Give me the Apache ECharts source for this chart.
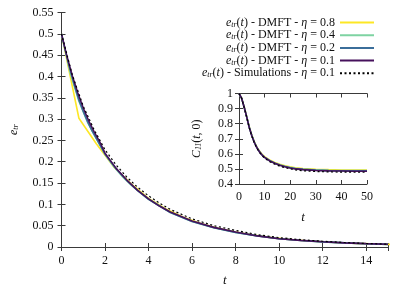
<!DOCTYPE html>
<html><head><meta charset="utf-8">
<script src="https://cdn.jsdelivr.net/npm/echarts@6/dist/echarts.min.js"></script>
<style>html,body{margin:0;padding:0;background:#fff}#c{width:411px;height:288px}</style>
</head><body><div id="c"></div>
<script>
// ---- main panel data (e_tr vs t) ----
const tP = [0,0.25,0.5,0.75,1,1.25,1.5,1.75,2,2.5,3,3.5,4,4.5,5,6,7,8,9,10,11,12,13,14,15];
const vP = [0.5,0.447,0.401,0.361,0.326,0.296,0.27,0.247,0.22,0.185,0.157,0.133,0.113,0.096,0.082,0.061,0.046,0.035,0.026,0.0195,0.0155,0.0122,0.0097,0.0078,0.0063];
const tB = [0,0.2,0.4,0.6,0.8,1.0,1.2,1.4,1.6,2,2.5,3,3.5,4,5,6,7,8,9,10,11,12,13,14,15];
const vB = [0.5,0.456,0.415,0.378,0.345,0.318,0.294,0.273,0.255,0.218,0.184,0.156,0.132,0.112,0.081,0.06,0.045,0.034,0.026,0.0193,0.0153,0.012,0.0096,0.0077,0.0062];
const tG = [0,0.4,0.8,1.2,1.6,2.0,2.4,2.8,3.2,3.6,4,5,6,7,8,9,10,11,12,13,14,15];
const vG = [0.5,0.408,0.342,0.292,0.254,0.217,0.189,0.165,0.145,0.128,0.112,0.081,0.06,0.045,0.034,0.026,0.0193,0.0153,0.012,0.0096,0.0077,0.0062];
const tY = [0,0.8,1.6,2.4,3.2,4.0,4.8,5.6,6.4,7.2,8.0,8.8,9.6,10.4,11.2,12.0,12.8,13.6,14.4,15.2];
const vY = [0.5,0.302,0.242,0.188,0.148,0.114,0.089,0.07,0.055,0.044,0.035,0.028,0.0225,0.018,0.0148,0.0122,0.0101,0.0085,0.0072,0.0061];
const tS = [0,0.5,1,1.5,2,2.5,3,3.5,4,4.5,5,6,7,8,9,10,11,12,13,14,15];
const vS = [0.5,0.403,0.33,0.275,0.228,0.193,0.164,0.14,0.12,0.103,0.088,0.066,0.05,0.039,0.029,0.022,0.0172,0.0135,0.0105,0.0083,0.0066];

// ---- inset data (C11(t,0) vs t) ----
const tI = [0,1,2,3,4,5,6,7,8,9,10,12,14,16,18,20,22,25,30,35,40,45,50];
const cP = [1,0.97,0.91,0.845,0.775,0.72,0.675,0.64,0.613,0.592,0.576,0.553,0.537,0.524,0.514,0.506,0.5,0.495,0.49,0.487,0.486,0.485,0.485];
const cB = [1,0.97,0.91,0.845,0.776,0.721,0.676,0.641,0.614,0.593,0.577,0.554,0.538,0.525,0.515,0.508,0.502,0.497,0.492,0.489,0.488,0.487,0.487];
const cG = [1,0.97,0.911,0.846,0.777,0.722,0.677,0.642,0.615,0.594,0.578,0.556,0.54,0.527,0.517,0.51,0.504,0.499,0.494,0.491,0.49,0.489,0.489];
const cY = [1,0.971,0.912,0.848,0.779,0.724,0.679,0.644,0.618,0.597,0.581,0.559,0.543,0.531,0.521,0.514,0.508,0.503,0.498,0.495,0.493,0.492,0.492];
const cS = [1,0.97,0.909,0.843,0.773,0.718,0.672,0.637,0.609,0.588,0.571,0.548,0.531,0.518,0.508,0.5,0.494,0.488,0.483,0.48,0.479,0.478,0.478];

const names = ['DMFT08','DMFT04','DMFT02','DMFT01','SIM01'];
const etas = ['0.8','0.4','0.2','0.1','0.1'];
const kinds = ['DMFT','DMFT','DMFT','DMFT','Simulations'];
const colors = ['#fde725','#7ed3a2','#3b6e9a','#46115c','#000000'];

const xTicksMain = [0,2,4,6,8,10,12,14];

function zip(a,b){return a.map((x,i)=>[x,b[i]]);}
const mainSets = [[tY,vY],[tG,vG],[tB,vB],[tP,vP],[tS,vS]];
const insetSets = [[tI,cY],[tI,cG],[tI,cB],[tI,cP],[tI,cS]];

const FONT = 'Liberation Serif';
const AX = '#3a3a3a';
const series = [];
mainSets.forEach((d,i)=>{
  series.push({name:names[i],type:'line',xAxisIndex:0,yAxisIndex:0,data:zip(d[0],d[1]),
    symbol:'none',smooth:false,z:3+i,
    lineStyle:{color:colors[i],width:i===4?1.2:1.6,type:i===4?[2,2.5]:'solid'},
    itemStyle:{color:colors[i]}});
});
insetSets.forEach((d,i)=>{
  series.push({name:names[i],type:'line',xAxisIndex:2,yAxisIndex:2,data:zip(d[0],d[1]),
    symbol:'none',z:3+i,
    lineStyle:{color:colors[i],width:i===4?1.2:1.6,type:i===4?[2,2.5]:'solid'},
    itemStyle:{color:colors[i]}});
});

function axisCommon(){
  return {axisLine:{lineStyle:{color:AX,width:1}},
    axisTick:{inside:true,length:4,lineStyle:{color:AX}},
    splitLine:{show:false},
    axisLabel:{color:'#111',fontFamily:FONT,fontSize:12}};
}
const legendFmt = (n)=>{
  const i = names.indexOf(n);
  return '{i|e}{s|tr}{r|(}{i|t}{r|) - '+kinds[i]+' - }{i|η}{r| = '+etas[i]+'}';
};
const rich = {
  i:{fontFamily:FONT,fontStyle:'italic',fontSize:12,color:'#111',lineHeight:12},
  r:{fontFamily:FONT,fontSize:12,color:'#111',lineHeight:12},
  s:{fontFamily:FONT,fontStyle:'italic',fontSize:8,color:'#111',lineHeight:12,padding:[4,0,0,0]}
};

const option = {
  animation:false,
  backgroundColor:'#fff',
  grid:[
    {left:61.5,top:12.5,right:23,bottom:41,containLabel:false,outerBoundsMode:'none'},
    {left:61.5,top:12.5,right:23,bottom:41,containLabel:false,outerBoundsMode:'none'},
    {left:239,top:93.5,width:128,height:90.5,backgroundColor:'#fff',show:true,borderWidth:0,containLabel:false,outerBoundsMode:'none'}
  ],
  xAxis:[
    Object.assign(axisCommon(),{gridIndex:0,type:'value',min:0,max:15,interval:2,position:'bottom',
      name:'t',nameLocation:'middle',nameGap:27,nameTextStyle:{fontFamily:FONT,fontStyle:'italic',fontSize:13,color:'#111'},
      axisLabel:{color:'#111',fontFamily:FONT,fontSize:12,margin:8,formatter:(v)=>xTicksMain.includes(v)?String(v):''}}),
    Object.assign(axisCommon(),{gridIndex:1,type:'value',min:0,max:15,interval:2,position:'top',axisLabel:{show:false}}),
    Object.assign(axisCommon(),{gridIndex:2,type:'value',min:0,max:50,interval:10,position:'bottom',
      name:'t',nameLocation:'middle',nameGap:27,nameTextStyle:{fontFamily:FONT,fontStyle:'italic',fontSize:13,color:'#111'},
      axisLabel:{color:'#111',fontFamily:FONT,fontSize:12,margin:7}}),
    Object.assign(axisCommon(),{gridIndex:2,type:'value',min:0,max:50,interval:10,position:'top',axisLabel:{show:false}})
  ],
  yAxis:[
    Object.assign(axisCommon(),{gridIndex:0,type:'value',min:0,max:0.55,interval:0.05,position:'left',
      name:'{i|e}{s|tr}',nameLocation:'middle',nameGap:42,nameRotate:90,
      nameTextStyle:{rich:rich},
      axisLabel:{color:'#111',fontFamily:FONT,fontSize:12,margin:8,formatter:(v)=>String(Math.round(v*100)/100)}}),
    Object.assign(axisCommon(),{gridIndex:1,type:'value',min:0,max:0.55,interval:0.05,position:'right',axisLabel:{show:false}}),
    Object.assign(axisCommon(),{gridIndex:2,type:'value',min:0.4,max:1,interval:0.1,position:'left',
      name:'{i|C}{s|11}{r|(}{i|t}{r|, 0)}',nameLocation:'middle',nameGap:36,nameRotate:90,
      nameTextStyle:{rich:rich},
      axisLabel:{color:'#111',fontFamily:FONT,fontSize:12,margin:6,formatter:(v)=>String(Math.round(v*10)/10)}}),
    Object.assign(axisCommon(),{gridIndex:2,type:'value',min:0.4,max:1,interval:0.1,position:'right',axisLabel:{show:false}})
  ],
  legend:{
    data:names, orient:'vertical', right:36, top:16.5, align:'right',
    itemWidth:34, itemHeight:8, itemGap:0.7, padding:0,
    formatter:legendFmt,
    itemStyle:{opacity:0},
    textStyle:{fontFamily:FONT,fontSize:12,color:'#111',rich:rich,width:172,align:'right'},
    inactiveColor:'#ccc'
  },
  series:series
};
const chart = echarts.init(document.getElementById('c'),null,{renderer:'canvas'});
chart.setOption(option);
</script></body></html>
